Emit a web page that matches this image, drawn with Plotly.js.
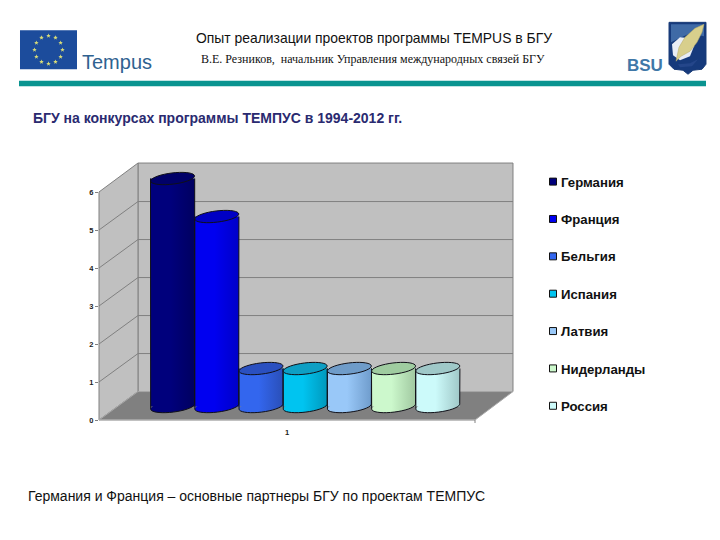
<!DOCTYPE html>
<html><head><meta charset="utf-8">
<script src="https://cdn.plot.ly/plotly-3.0.1.min.js"></script>
<style>html,body{margin:0;padding:0;background:#fff}#c{width:720px;height:540px}</style>
</head><body><div id="c"></div>
<script>
const countries = ["Германия","Франция","Бельгия","Испания","Латвия","Нидерланды","Россия"];
const projects = [6,5,1,1,1,1,1];
const categoryLabel = ["1"];
const yTicks = [0,1,2,3,4,5,6];
const colors = ["#00007c","#0000f0","#3366ee","#00c4f0","#99c8f8","#ccf8cc","#ccfafa"];
const darkColors = ["#000060","#0000c8","#2a4fb8","#0098bc","#6f9ccc","#a0c8a0","#a0c8c8"];
const topColors = ["#000068","#0000c4","#2a50c0","#0e9fc4","#6f9cc9","#9fcca0","#9fc8c8"];

// layout geometry (pixels)
const L=99,R=475,B=420.5,U=38.08,YMAX=7,W=720,H=540;
const plotW=R-L, T=B-YMAX*U;
const PX=x=>(x-L)/plotW, PY=y=>(B-y)/(B-T);
const poly=(pts,close=true)=>pts.map((p,i)=>(i?'L':'M')+PX(p[0]).toFixed(5)+','+PY(p[1]).toFixed(5)).join(' ')+(close?' Z':'');

// cylinder geometry
const barPx=44.2, startPx=150.5, basePx=13.5;
const barW=barPx/plotW, baseV=basePx/U;
const offs=countries.map((c,i)=>(startPx+i*barPx-(L+plotW/2))/plotW);

function ell(i,v,from=0,to=360){
  const a=barPx/2,b=5.6,th=7*Math.PI/180,cx=1+offs[i]+barW/2,pts=[];
  for(let d=from;d<=to;d+=10){
    const t=d*Math.PI/180;
    const dx=a*Math.cos(t)*Math.cos(th)+b*Math.sin(t)*Math.sin(th);
    const dy=-a*Math.cos(t)*Math.sin(th)+b*Math.sin(t)*Math.cos(th); // px, downward
    pts.push([cx+dx/plotW, baseV+v-dy/U]);
  }
  return pts;
}
const dp=pts=>pts.map((p,i)=>(i?'L':'M')+p[0].toFixed(5)+','+p[1].toFixed(4)).join(' ');

const GRAY='#808080',WALL='#c0c0c0',FLOOR='#808080';
const shapes=[];
const add=(o)=>{shapes.push(o);return shapes.length-1;};
const pap=(path,fill,lc,lw,layer='below')=>add({type:'path',xref:'paper',yref:'paper',path,fillcolor:fill,line:{color:lc,width:lw},layer});

// 3D box
const BX0=138,BX1=513,BT=163,BB=392;
pap(poly([[BX0,BT],[BX1,BT],[BX1,BB],[BX0,BB]]),WALL,GRAY,1);
pap(poly([[L,192],[BX0,BT],[BX0,BB],[L,B]]),WALL,GRAY,1);
pap(poly([[L,B],[BX0,BB],[BX1,BB],[R,B]]),FLOOR,'#a8a8a8',1);
yTicks.slice(1,6).forEach(v=>{
  const yf=B-v*U, yb=BB-v*U;
  pap(poly([[L,yf],[BX0,yb],[BX1,yb]],false),'rgba(0,0,0,0)',GRAY,1);
});
pap(poly([[L,B],[R,B]],false),'rgba(0,0,0,0)','#b0b0b0',1);
pap(poly([[R,B],[R,B+3]],false),'rgba(0,0,0,0)',GRAY,1);

// cylinder bottoms below the bars
const gradShapes=[];
countries.forEach((c,i)=>{
  const k=add({type:'path',xref:'x',yref:'y',path:dp(ell(i,0))+' Z',fillcolor:colors[i],line:{width:0},layer:'between'});
  gradShapes.push([k,i]);
});
// cylinder outlines and tops above the bars
countries.forEach((c,i)=>{
  const left=[1+offs[i],baseV+projects[i]], right=[1+offs[i]+barW,baseV+projects[i]];
  const arc=ell(i,0,0,180).reverse();
  add({type:'path',xref:'x',yref:'y',path:dp([left,...arc,right]),line:{color:'#101018',width:1},layer:'above'});
  add({type:'path',xref:'x',yref:'y',path:dp(ell(i,projects[i]))+' Z',fillcolor:topColors[i],line:{color:'#101018',width:1},layer:'above'});
});

// header graphics
pap(poly([[19,80.5],[706,80.5],[706,86],[19,86]]),'#0a9490','#0a9490',0,'above');
pap(poly([[20,30],[77,30],[77,69],[20,69]]),'#1c4c9c','#1c4c9c',0,'above');
for(let k=0;k<12;k++){
  const a=k*Math.PI/6, cx=48.5+14*Math.sin(a), cy=49.5-14*Math.cos(a), s=[];
  for(let j=0;j<10;j++){const r=j%2?1.0:2.4,b=j*Math.PI/5;s.push([cx+r*Math.sin(b),cy-r*Math.cos(b)]);}
  pap(poly(s),'#d8dc78','#d8dc78',0,'above');
}
// crest
pap(poly([[669,22],[706,22],[706,64],[702,69],[693,70],[688,74],[683,70],[674,69],[669,64]]),'#163a7c','#1a3c78',1,'above');
pap(poly([[671,24],[704,24],[704,36],[690,33],[671,42]]),'#3f6aa6','#3f6aa6',0,'above');
pap(poly([[672,44],[680,37],[690,38],[694,46],[690,56],[680,60],[673,55]]),'#e8edf6','#e8edf6',0,'above');
pap(poly([[704,24],[695,28],[685,37],[679,47],[676,61],[681,56],[690,51],[697,42],[702,32]]),'#d8cf8c','#b4a864',.5,'above');
pap(poly([[678,64],[690,63],[698,59],[692,66],[680,67]]),'#24468a','#24468a',0,'above');

const traces=countries.map((c,i)=>({
  type:'bar',name:c,x:[1],y:[projects[i]],base:baseV,width:barW,offset:offs[i],
  marker:{color:colors[i],line:{width:0}},cliponaxis:false,legendgroup:c,hoverinfo:'skip'
}));

const ann=(text,xp,yp,size,color,family)=>({text,xref:'paper',yref:'paper',x:PX(xp-2),y:PY(yp),
  xanchor:'left',yanchor:'middle',showarrow:false,font:{size,color,family}});
const annotations=[
  ann('Опыт реализации проектов программы TEMPUS в БГУ',196,38,13.9,'#111','Liberation Sans'),
  ann('В.Е. Резников,  начальник Управления международных связей БГУ',201,59,12,'#111','Liberation Serif'),
  ann('<b>БГУ на конкурсах программы ТЕМПУС в 1994-2012 гг.</b>',33,118,14,'#2a2a70','Liberation Sans'),
  ann('Германия и Франция – основные партнеры БГУ по проектам ТЕМПУС',28,497,14,'#111','Liberation Sans'),
  ann('Tempus',82,62,20,'#2f6290','Liberation Sans'),
  ann('<b>BSU</b>',627,65,17,'#3f78a8','Liberation Sans')
];

const tickFont={size:7.5,family:'Liberation Sans',color:'#222',weight:'bold'};
const layout={
  width:W,height:H,autosize:false,showlegend:true,barmode:'overlay',
  paper_bgcolor:'#fff',plot_bgcolor:'rgba(0,0,0,0)',
  margin:{l:L,r:W-R,t:T,b:H-B,pad:0},
  hovermode:false,
  xaxis:{range:[0.5,1.5],tickmode:'array',tickvals:[1],ticktext:categoryLabel,showgrid:false,zeroline:false,
    showline:false,ticks:'',ticklabelstandoff:6,tickfont:tickFont,fixedrange:true},
  yaxis:{range:[0,YMAX],tickmode:'array',tickvals:yTicks,ticktext:yTicks.map(String),showgrid:false,zeroline:false,
    showline:false,ticks:'outside',ticklen:3,tickcolor:GRAY,tickfont:tickFont,fixedrange:true},
  legend:{x:PX(533),y:PY(166.5),xref:'paper',yref:'paper',xanchor:'left',yanchor:'top',
    tracegroupgap:17.2,font:{size:13.2,family:'Liberation Sans',color:'#111',weight:'bold'},bgcolor:'rgba(0,0,0,0)',itemclick:false,itemdoubleclick:false},
  shapes,annotations
};

Plotly.newPlot('c',traces,layout,{displayModeBar:false,staticPlot:true}).then(gd=>{
  const svg=gd.querySelector('svg.main-svg');
  const NS='http://www.w3.org/2000/svg';
  const defs=document.createElementNS(NS,'defs');
  colors.forEach((col,i)=>{
    const g=document.createElementNS(NS,'linearGradient');
    g.setAttribute('id','cyl'+i);
    [[0,col],[.45,col],[1,darkColors[i]]].forEach(([o,c])=>{
      const s=document.createElementNS(NS,'stop');
      s.setAttribute('offset',o);s.setAttribute('stop-color',c);g.appendChild(s);
    });
    defs.appendChild(g);
  });
  svg.insertBefore(defs,svg.firstChild);
  gd.querySelectorAll('.barlayer .trace').forEach((t,i)=>{
    t.querySelectorAll('.point path').forEach(p=>{p.style.fill='url(#cyl'+i+')';});
  });
  gradShapes.forEach(([k,i])=>{
    gd.querySelectorAll('.shapelayer path[data-index="'+k+'"]').forEach(p=>{p.style.fill='url(#cyl'+i+')';});
  });
  gd.querySelectorAll('.legend .traces').forEach(t=>{
    const p=t.querySelector('.legendpoints path');
    if(p){p.setAttribute('d','M3.5,3.5H-3.5V-3.5H3.5Z');p.style.stroke='#111';p.style.strokeWidth='1px';}
    const x=t.querySelector('.legendtext');
    if(x)x.setAttribute('x',28);
  });
});
</script></body></html>
